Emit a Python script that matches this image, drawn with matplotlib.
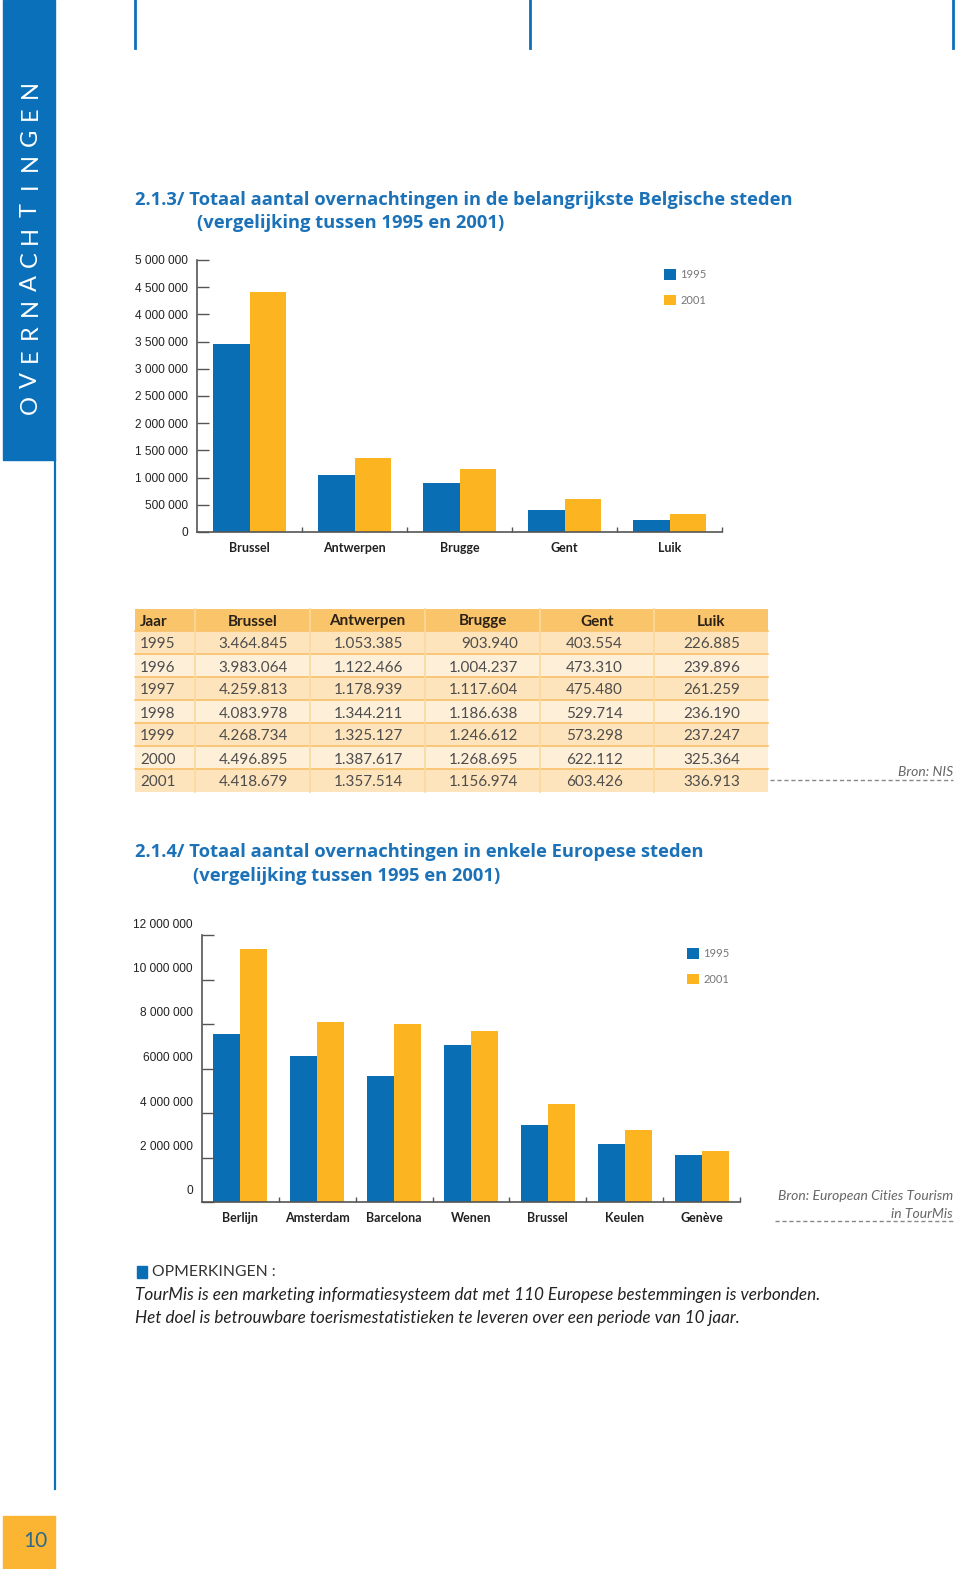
import numpy as np
import matplotlib
matplotlib.use("Agg")
import matplotlib.pyplot as plt
from matplotlib.patches import Rectangle
from matplotlib.transforms import ScaledTranslation

# --- data: Belgian cities (NIS) ---
years = [1995, 1996, 1997, 1998, 1999, 2000, 2001]
be_cities = ["Brussel", "Antwerpen", "Brugge", "Gent", "Luik"]
brussel = [3464845, 3983064, 4259813, 4083978, 4268734, 4496895, 4418679]
antwerpen = [1053385, 1122466, 1178939, 1344211, 1325127, 1387617, 1357514]
brugge = [903940, 1004237, 1117604, 1186638, 1246612, 1268695, 1156974]
gent = [403554, 473310, 475480, 529714, 573298, 622112, 603426]
luik = [226885, 239896, 261259, 236190, 237247, 325364, 336913]
be_series = [brussel, antwerpen, brugge, gent, luik]

# --- data: European cities (estimated from chart) ---
eu_cities = ["Berlijn", "Amsterdam", "Barcelona", "Wenen", "Brussel", "Keulen", "Genève"]
eu_1995 = [7550000, 6560000, 5660000, 7060000, 3464845, 2610000, 2110000]
eu_2001 = [11370000, 8090000, 8000000, 7690000, 4418679, 3240000, 2290000]

be_yticks = [0, 500000, 1000000, 1500000, 2000000, 2500000, 3000000, 3500000, 4000000, 4500000, 5000000]
be_ylabels = ["0", "500 000", "1 000 000", "1 500 000", "2 000 000", "2 500 000",
              "3 000 000", "3 500 000", "4 000 000", "4 500 000", "5 000 000"]
eu_yticks = [0, 2000000, 4000000, 6000000, 8000000, 10000000, 12000000]
eu_ylabels = ["0", "2 000 000", "4 000 000", "6000 000", "8 000 000", "10 000 000", "12 000 000"]

BLUE = "#0a6eb4"
YELLOW = "#fcb520"
SIDE = "#0b70ba"
TITLE = "#1b72b8"
AXC = "#555555"

plt.rcParams["font.family"] = ["Lato", "DejaVu Sans"]
NARROW = ["Liberation Sans", "DejaVu Sans"]
TITLE_FONT = ["Open Sans", "DejaVu Sans"]

W, H = 960, 1569
fig = plt.figure(figsize=(W / 100, H / 100), dpi=100)


def add_ax(x0, y0, x1, y1):
    return fig.add_axes([x0 / W, 1 - y1 / H, (x1 - x0) / W, (y1 - y0) / H])


page = fig.add_axes([0, 0, 1, 1])
page.set_xlim(0, W)
page.set_ylim(H, 0)
page.axis("off")

# sidebar
page.add_patch(Rectangle((3, 0), 52, 460, color=SIDE))
page.plot([55, 55], [460, 1489], color=SIDE, lw=1.6)
page.add_patch(Rectangle((3, 1516), 52, 53, color="#fbb532"))
page.text(35, 1541, "10", ha="center", va="center", fontsize=15, color="#2b6a8a")
for i, ch in enumerate("OVERNACHTINGEN"):
    page.text(30, 404 - i * 24.2, ch, rotation=90, ha="center", va="center",
              color="white", fontsize=17)
for x in [135, 530, 953]:
    page.plot([x, x], [0, 48], color=SIDE, lw=2)

# titles
tkw = dict(color=TITLE, fontsize=13.2, fontweight="bold", va="center", family=TITLE_FONT)
page.text(135, 200, "2.1.3/ Totaal aantal overnachtingen in de belangrijkste Belgische steden", **tkw)
page.text(197, 223, "(vergelijking tussen 1995 en 2001)", **tkw)
page.text(135, 852, "2.1.4/ Totaal aantal overnachtingen in enkele Europese steden", **tkw)
page.text(193, 876, "(vergelijking tussen 1995 en 2001)", **tkw)


def style_chart(ax, n, cats, yticks, ylabels, ymax):
    ax.set_xlim(-0.5, n - 0.5)
    ax.set_ylim(0, ymax)
    ax.patch.set_alpha(0)
    for s in ["top", "right"]:
        ax.spines[s].set_visible(False)
    for s in ["left", "bottom"]:
        ax.spines[s].set_color(AXC)
        ax.spines[s].set_linewidth(1.2)
    ax.set_yticks(yticks)
    ax.set_yticklabels(ylabels, family=NARROW, fontsize=8.6, color="#222222")
    ax.tick_params(axis="y", direction="in", length=8.5, width=1, color=AXC, pad=6.5)
    ax.set_xticks(np.arange(n) + 0.5)
    ax.tick_params(axis="x", which="major", direction="in", length=3.5, width=1,
                   color=AXC, labelbottom=False)
    ax.set_xticks(np.arange(n), minor=True)
    ax.set_xticklabels(cats, minor=True, fontsize=9, fontweight="bold", color="#222222")
    ax.tick_params(axis="x", which="minor", length=0, pad=7.5)


# chart 1
ax1 = add_ax(197, 260, 722, 532)
x = np.arange(len(be_cities))
w = 0.352
ax1.bar(x - w / 2, [s[0] for s in be_series], w, color=BLUE, label="1995")
ax1.bar(x + w / 2, [s[-1] for s in be_series], w, color=YELLOW, label="2001")
style_chart(ax1, len(be_cities), be_cities, be_yticks, be_ylabels, 5000000)
ax1.legend(loc="upper left", bbox_to_anchor=(664 / W, 1 - 269 / H), bbox_transform=fig.transFigure,
           frameon=False, borderpad=0, borderaxespad=0, handlelength=1.1, handleheight=1.1,
           handletextpad=0.35, labelspacing=1.3, fontsize=8, labelcolor="#777777")

# table
col_edges = [135, 195, 310, 425, 540, 654, 768]
val_right = [288, 403, 518, 623, 740]
top, head_h, row_h = 609, 22, 23
page.add_patch(Rectangle((135, top), 633, head_h, color="#f9c46a", lw=0))
for r in range(len(years)):
    y0 = top + head_h + r * row_h
    page.add_patch(Rectangle((135, y0), 633, row_h, color="#fde4bc" if r % 2 == 0 else "#feefd9", lw=0))
    page.plot([135, 768], [y0, y0], color="#f8c16a", lw=1.2)
for xe in col_edges[1:-1]:
    page.plot([xe, xe], [top, top + head_h + row_h * len(years)], color="#fcd99c", lw=1.2)
page.text(140, top + head_h / 2 + 1.5, "Jaar", ha="left", va="center", fontsize=11,
          fontweight="bold", color="#2a2118")
for j, c in enumerate(be_cities):
    page.text((col_edges[j + 1] + col_edges[j + 2]) / 2, top + head_h / 2 + 1.5, c, ha="center",
              va="center", fontsize=11, fontweight="bold", color="#2a2118")
for r, yr in enumerate(years):
    yc = top + head_h + r * row_h + row_h / 2 + 2
    page.text(140, yc, str(yr), ha="left", va="center", fontsize=11, color="#4d4d4d")
    for j, s in enumerate(be_series):
        page.text(val_right[j], yc, f"{s[r]:,}".replace(",", "."), ha="right", va="center",
                  fontsize=11, color="#4d4d4d")
page.text(953, 772, "Bron: NIS", ha="right", va="center", style="italic", fontsize=10, color="#666666")
page.plot([770, 953], [780, 780], ls=(0, (3, 2)), color="#888888", lw=1)

# chart 2
ax2 = add_ax(202, 935, 740, 1202)
x2 = np.arange(len(eu_cities))
ax2.bar(x2 - w / 2, eu_1995, w, color=BLUE, label="1995")
ax2.bar(x2 + w / 2, eu_2001, w, color=YELLOW, label="2001")
style_chart(ax2, len(eu_cities), eu_cities, eu_yticks, eu_ylabels, 12000000)
shift = ScaledTranslation(0, 12 / 100, fig.dpi_scale_trans)
for lab in ax2.get_yticklabels():
    lab.set_transform(lab.get_transform() + shift)
ax2.legend(loc="upper left", bbox_to_anchor=(687 / W, 1 - 948 / H), bbox_transform=fig.transFigure,
           frameon=False, borderpad=0, borderaxespad=0, handlelength=1.1, handleheight=1.1,
           handletextpad=0.35, labelspacing=1.3, fontsize=8, labelcolor="#777777")
page.text(953, 1196, "Bron: European Cities Tourism", ha="right", va="center", style="italic",
          fontsize=10, color="#666666")
page.text(953, 1214, "in TourMis", ha="right", va="center", style="italic", fontsize=10, color="#666666")
page.plot([775, 953], [1221, 1221], ls=(0, (3, 2)), color="#888888", lw=1)

# remarks
page.add_patch(Rectangle((137, 1266), 10, 12, color=BLUE))
page.text(152, 1272, "OPMERKINGEN :", ha="left", va="center", fontsize=11.3, color="#333333")
page.text(135, 1295, "TourMis is een marketing informatiesysteem dat met 110 Europese bestemmingen is verbonden.",
          ha="left", va="center", style="italic", fontsize=12.3, color="#222222")
page.text(135, 1318, "Het doel is betrouwbare toerismestatistieken te leveren over een periode van 10 jaar.",
          ha="left", va="center", style="italic", fontsize=12.3, color="#222222")

fig.savefig("out.png", dpi=100)
